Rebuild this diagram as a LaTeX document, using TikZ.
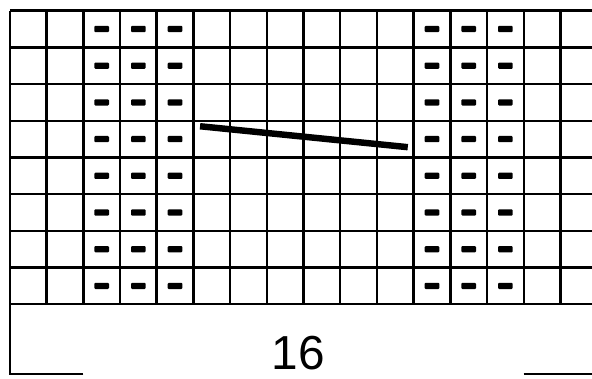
\documentclass[tikz,border=0pt]{standalone}
\usepackage{fontspec}
\setmainfont{Liberation Sans}
\usetikzlibrary{positioning}
\tikzset{
    purl/.style={fill=black, rounded corners=0.8pt, minimum width=0.4cm,
                 minimum height=0.17cm, inner sep=0pt},
    cable/.style={line width=5pt, line cap=butt}
}

\begin{document}
\begin{tikzpicture}[line width=1.9pt]
        \useasboundingbox (-0.27,-2.02) rectangle (15.86,8.29);
        \clip (-0.27,-2.02) rectangle (15.86,8.29);

        % chart grid, 16 stitches x 8 rows
        \draw (0,0) grid (16,8);

        % purl stitches in both panels
        \foreach \c in {3,4,5,12,13,14} {
            \foreach \r in {1,...,8} {
                \node[purl] (p\c-\r) at (\c-0.5,\r-0.5) {};
            }
        }

        % cable line across row 4
        \coordinate (cs) at (5.18,4.85);
        \coordinate (ce) at (10.84,4.28);
        \draw[cable] (cs) -- (ce);

        % width bracket
        \coordinate (bl) at (0,0);
        \coordinate (br) at (16,0);
        \draw (2,-1.9) -| (bl);
        \draw (14,-1.9) -| (br);
        \node[inner sep=0pt] (width) at (7.85,-1.33) {\fontsize{37}{37}\selectfont 16};
    \end{tikzpicture}
\end{document}
